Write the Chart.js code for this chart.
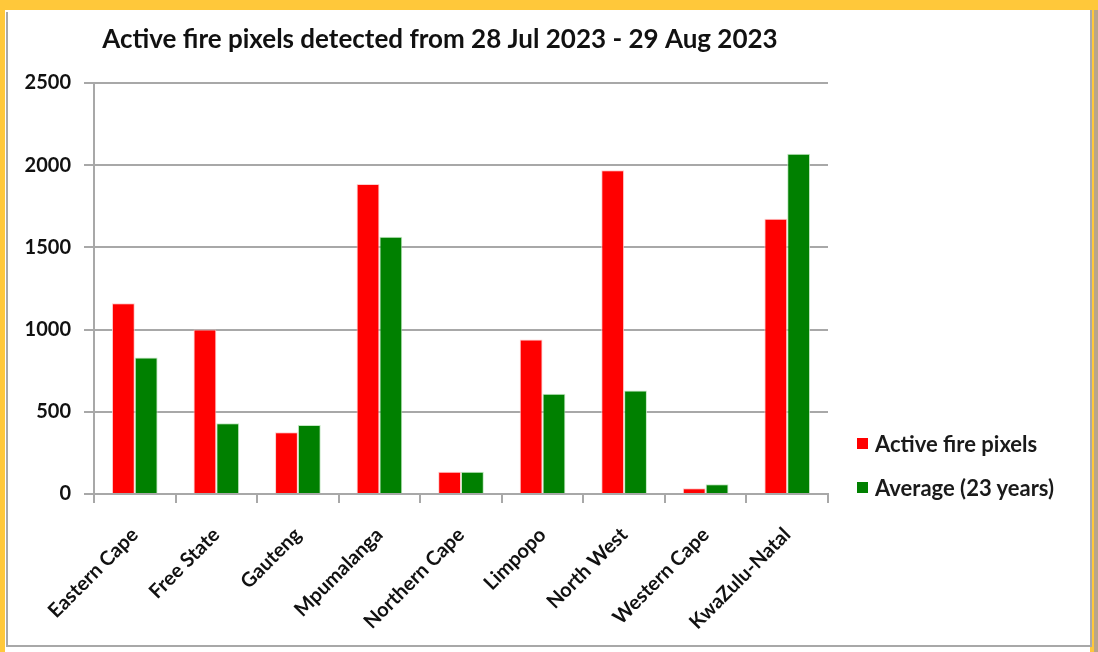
<!DOCTYPE html>
<html>
<head>
<meta charset="utf-8">
<script src="https://cdn.jsdelivr.net/npm/chart.js@4.4.1/dist/chart.umd.min.js"></script>
<style>
  html, body { margin: 0; padding: 0; background: #ffffff; width: 1098px; height: 652px; overflow: hidden; font-family: Lato, "Open Sans", sans-serif; }
  .frame { position: absolute; }
  #wrap { position: absolute; left: 0; top: 0; width: 1098px; height: 652px; }
  #legend { position: absolute; left: 857px; top: 421px; font: bold 22px Lato, sans-serif; color: #1a1a1a; }
  #legend .item { height: 44px; display: flex; align-items: center; }
  #legend .sw { width: 11px; height: 11px; margin-right: 7px; }
</style>
</head>
<body>
<div class="frame" style="left:0;top:0;width:1098px;height:10px;background:#FFC83A;"></div>
<div class="frame" style="left:0;top:0;width:5px;height:652px;background:#FFC83A;"></div>
<div class="frame" style="left:1090px;top:0;width:4px;height:652px;background:#FFC83A;"></div>
<div class="frame" style="left:1094px;top:10px;width:4px;height:642px;background:#b9a58a;"></div>
<div class="frame" style="left:6px;top:12px;width:2px;height:635px;background:#a8a8a8;"></div>
<div class="frame" style="left:6px;top:645px;width:1086px;height:2px;background:#a8a8a8;"></div>
<div class="frame" style="left:1090px;top:10px;width:2px;height:637px;background:#a8a8a8;"></div>
<div id="wrap"><canvas id="c" width="1098" height="652"></canvas></div>
<div id="legend"></div>
<script>
const categories = ["Eastern Cape", "Free State", "Gauteng", "Mpumalanga", "Northern Cape", "Limpopo", "North West", "Western Cape", "KwaZulu-Natal"];
const activeFirePixels = [1160, 1000, 375, 1885, 135, 940, 1970, 35, 1675];
const average23Years = [830, 430, 420, 1565, 135, 610, 630, 60, 2070];
const seriesLabels = ["Active fire pixels", "Average (23 years)"];
const seriesColors = ["#FF0000", "#008000"];
const titleText = "Active fire pixels detected from 28 Jul 2023 - 29 Aug 2023";

const titlePlugin = {
  id: 'fixedTitle',
  afterDraw(chart) {
    const c = chart.ctx;
    c.save();
    c.font = 'bold 26px Lato';
    c.fillStyle = '#111111';
    c.textAlign = 'center';
    c.textBaseline = 'middle';
    c.fillText(titleText, 440, 40);
    c.restore();
  }
};

const ctx = document.getElementById('c');
const chart = new Chart(ctx, {
  type: 'bar',
  data: {
    labels: categories,
    datasets: [
      { label: seriesLabels[0], data: activeFirePixels, backgroundColor: seriesColors[0], borderColor: 'rgba(255,200,200,0.9)', borderWidth: 1, categoryPercentage: 0.56, barPercentage: 1.0 },
      { label: seriesLabels[1], data: average23Years, backgroundColor: seriesColors[1], borderColor: 'rgba(190,230,190,0.9)', borderWidth: 1, categoryPercentage: 0.56, barPercentage: 1.0 }
    ]
  },
  plugins: [titlePlugin],
  options: {
    responsive: false,
    animation: false,
    devicePixelRatio: 1,
    layout: { padding: { left: 22, right: 270, top: 83, bottom: 6 } },
    plugins: {
      legend: { display: false },
      tooltip: { enabled: false },
      title: { display: false }
    },
    scales: {
      x: {
        grid: { display: true, drawOnChartArea: false, drawTicks: true, tickLength: 9, color: '#a8a8a8', lineWidth: 2, offset: true },
        border: { display: true, color: '#a8a8a8', width: 2 },
        ticks: { color: '#111111', font: { family: 'Lato', weight: 'bold', size: 20 }, maxRotation: 45, minRotation: 45, padding: 20 },
        afterFit: (s) => { s.height = 152; }
      },
      y: {
        min: 0, max: 2500,
        grid: { color: '#a8a8a8', lineWidth: 2, tickLength: 10, drawTicks: true },
        border: { display: true, color: '#a8a8a8', width: 2 },
        ticks: { stepSize: 500, color: '#111111', font: { family: 'Lato', weight: 'bold', size: 20 }, padding: 13, callback: (v) => String(v) },
        afterFit: (s) => { s.width = 72; }
      }
    }
  }
});

const legend = document.getElementById('legend');
seriesLabels.forEach((lab, i) => {
  const item = document.createElement('div');
  item.className = 'item';
  const sw = document.createElement('span');
  sw.className = 'sw';
  sw.style.background = seriesColors[i];
  const t = document.createElement('span');
  t.textContent = lab;
  item.appendChild(sw); item.appendChild(t);
  legend.appendChild(item);
});
</script>
</body>
</html>
